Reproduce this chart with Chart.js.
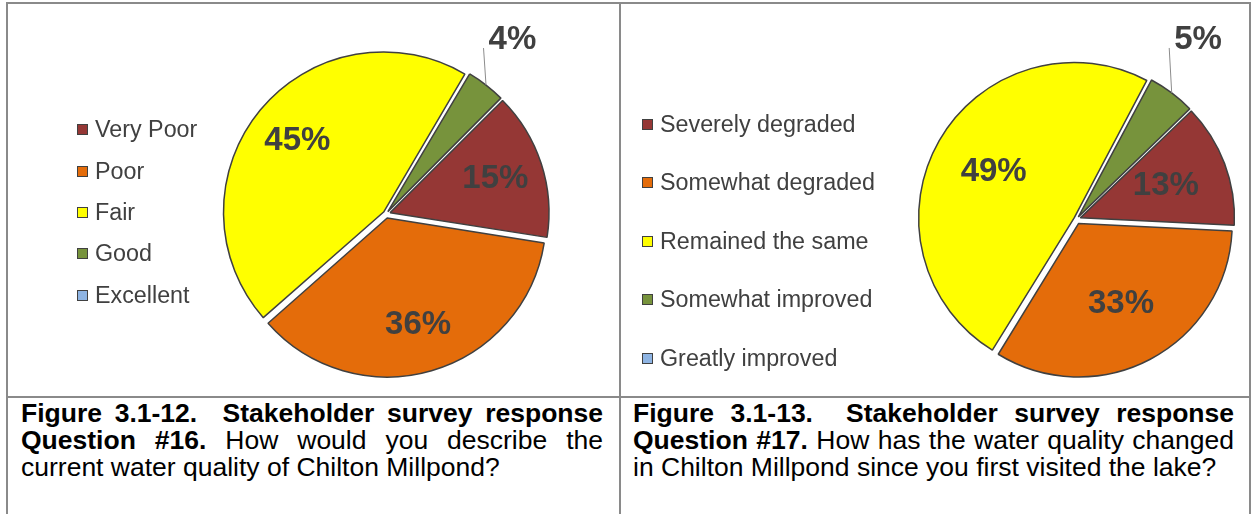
<!DOCTYPE html>
<html>
<head>
<meta charset="utf-8">
<title>Stakeholder survey responses</title>
<script src="https://cdn.jsdelivr.net/npm/chart.js@4.4.0/dist/chart.umd.min.js"></script>
<style>
  body { margin: 0; background: #fff; width: 1251px; height: 514px; overflow: hidden; position: relative;
         font-family: "Liberation Sans", Arial, sans-serif; }
  .rule { position: absolute; background: #8a8a8a; }
  canvas { position: absolute; }
  .legend { position: absolute; margin: 0; padding: 0; list-style: none; color: #404040; font-size: 23.3px; }
  .legend li { display: flex; align-items: center; white-space: nowrap; }
  .legend .box { width: 9px; height: 9px; border: 1.5px solid #404040; margin-right: 7px; flex: none; }
  .caption { position: absolute; top: 400px; font-size: 26.5px; line-height: 27px; text-align: justify; color: #000; }
</style>
</head>
<body>
<div class="rule" style="left:6px;top:2px;width:1245px;height:2px"></div>
<div class="rule" style="left:6px;top:2px;width:2px;height:512px"></div>
<div class="rule" style="left:619px;top:2px;width:2px;height:512px"></div>
<div class="rule" style="left:1249px;top:2px;width:2px;height:512px"></div>
<div class="rule" style="left:6px;top:396px;width:1245px;height:2px"></div>

<canvas id="q16" width="611" height="392" style="left:8px;top:4px"></canvas>
<ul class="legend" id="q16-legend" style="left:77px;top:109px"></ul>

<canvas id="q17" width="627" height="392" style="left:621px;top:4px"></canvas>
<ul class="legend" id="q17-legend" style="left:642px;top:95px"></ul>

<div class="caption" style="left:21px;width:582px"><b>Figure 3.1-12.&nbsp; Stakeholder survey response Question #16.</b> How would you describe the current water quality of Chilton Millpond?</div>
<div class="caption" style="left:633px;width:601px"><b>Figure 3.1-13.&nbsp; Stakeholder survey response Question #17.</b> How has the water quality changed in Chilton Millpond since you first visited the lake?</div>

<script>
// Question #16 - current water quality
const q16Labels = ['Very Poor', 'Poor', 'Fair', 'Good', 'Excellent'];
const q16Values = [15, 36, 45, 4, 0];

// Question #17 - change since first visit
const q17Labels = ['Severely degraded', 'Somewhat degraded', 'Remained the same', 'Somewhat improved', 'Greatly improved'];
const q17Values = [13, 33, 49, 5, 0];

const sliceColors = ['#953735', '#E46C0A', '#FFFF00', '#77933C', '#8EB4E3'];

const EXPLODE = 5.2;    // px every slice is pulled away from the centre
const LABEL_COLOR = '#404040';

// Chart.js scales the arc offset by the slice size; undo that so all slices move the same distance
function explodeOffset(c) {
  const data = c.dataset.data;
  const total = data.reduce((a, b) => a + b, 0);
  const circ = total ? c.raw / total * 2 * Math.PI : 0;
  return EXPLODE * 4 / (2 - Math.sin(Math.min(Math.PI, circ)));
}

// percentage labels: inside the slice, or outside with a leader line for thin slices
const sliceLabels = {
  id: 'sliceLabels',
  afterDatasetsDraw(chart, args, opts) {
    const ctx = chart.ctx;
    const meta = chart.getDatasetMeta(0);
    const values = chart.data.datasets[0].data;
    ctx.save();
    ctx.fillStyle = LABEL_COLOR;
    ctx.font = 'bold 33px "Liberation Sans", Arial, sans-serif';
    meta.data.forEach((arc, i) => {
      const v = values[i];
      if (!v) return;
      const p = arc.getProps(['x', 'y', 'startAngle', 'endAngle', 'outerRadius', 'circumference'], true);
      const mid = (p.startAngle + p.endAngle) / 2;
      const shift = arc.options.offset / 4 * (2 - Math.sin(Math.min(Math.PI, p.circumference)));
      const cx = p.x + Math.cos(mid) * shift;
      const cy = p.y + Math.sin(mid) * shift;
      const text = v + '%';
      if (v < opts.outsideBelow) {
        const ax = cx + Math.cos(mid) * p.outerRadius;
        const ay = cy + Math.sin(mid) * p.outerRadius;
        const ex = ax - 2.5, ey = ay - opts.leader;
        ctx.strokeStyle = '#8c8c8c';
        ctx.lineWidth = 1;
        ctx.beginPath();
        ctx.moveTo(ax, ay);
        ctx.lineTo(ex, ey);
        ctx.stroke();
        ctx.textAlign = 'left';
        ctx.textBaseline = 'alphabetic';
        ctx.fillText(text, ex + 5, ey + 1);
      } else {
        const d = p.outerRadius * opts.inset;
        ctx.textAlign = 'center';
        ctx.textBaseline = 'middle';
        ctx.fillText(text, cx + Math.cos(mid) * d, cy + Math.sin(mid) * d);
      }
    });
    ctx.restore();
  }
};

function makePie(id, labels, values, cfg) {
  return new Chart(document.getElementById(id), {
    type: 'pie',
    data: {
      labels: labels,
      datasets: [{
        data: values,
        backgroundColor: sliceColors,
        borderColor: '#404040',
        borderWidth: 1.5,
        offset: explodeOffset,
        hoverOffset: 0,
        clip: false
      }]
    },
    options: {
      responsive: false,
      animation: false,
      rotation: cfg.rotation,
      radius: cfg.radius,
      layout: { padding: cfg.padding },
      events: [],
      plugins: {
        legend: { display: false },
        tooltip: { enabled: false },
        sliceLabels: { inset: cfg.inset, outsideBelow: 8, leader: cfg.leader }
      }
    },
    plugins: [sliceLabels]
  });
}

function buildLegend(chart, el, rowHeight) {
  const ds = chart.data.datasets[0];
  chart.data.labels.forEach((label, i) => {
    const li = document.createElement('li');
    li.style.height = rowHeight + 'px';
    const box = document.createElement('span');
    box.className = 'box';
    box.style.background = ds.backgroundColor[i];
    li.appendChild(box);
    li.appendChild(document.createTextNode(label));
    el.appendChild(li);
  });
}

const q16Chart = makePie('q16', q16Labels, q16Values, {
  rotation: 45, radius: 158, inset: 0.695, leader: 37,
  padding: { left: 220, right: 75, top: 40, bottom: 12 }
});
buildLegend(q16Chart, document.getElementById('q16-legend'), 41.4);

const q17Chart = makePie('q17', q17Labels, q17Values, {
  rotation: 46, radius: 153, inset: 0.59, leader: 45,
  padding: { left: 330, right: 46, top: 45, bottom: 6.4 }
});
buildLegend(q17Chart, document.getElementById('q17-legend'), 58.5);
</script>
</body>
</html>
